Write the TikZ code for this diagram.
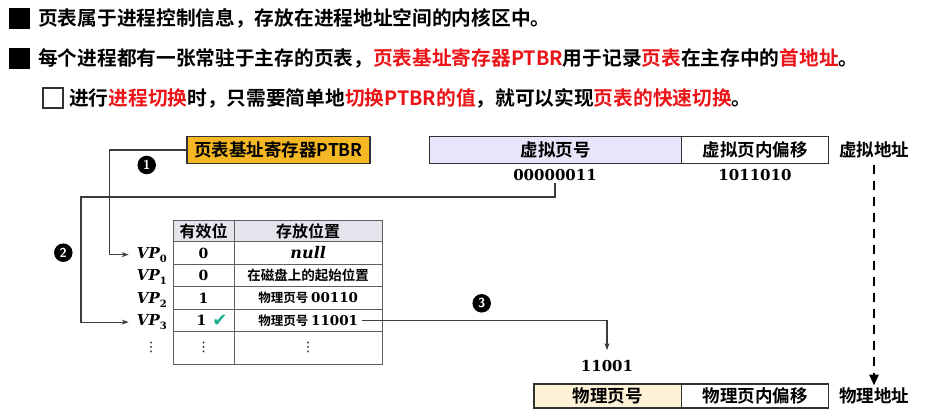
\documentclass[tikz,border=0pt]{standalone}
\usepackage{fontspec}
\newfontfamily\cjk{Noto Sans CJK SC Bold}
\newfontfamily\numf{DejaVu Serif Bold}
\newfontfamily\numi{DejaVu Serif Bold Italic}
\newfontfamily\sym{DejaVu Sans}
\usetikzlibrary{arrows.meta}
\definecolor{hred}{RGB}{235,20,25}
\definecolor{ptbrc}{RGB}{245,183,35}
\definecolor{vlav}{RGB}{230,229,250}
\definecolor{ppeach}{RGB}{253,241,214}
\definecolor{hdrc}{RGB}{228,228,236}
\definecolor{linec}{RGB}{60,60,60}
\definecolor{boxline}{RGB}{50,50,50}
\definecolor{tablec}{RGB}{95,95,95}
\definecolor{chk}{RGB}{26,175,140}
\newcommand{\vpl}[1]{{\numi VP}\raisebox{-4pt}{\numf\fontsize{10}{10}\selectfont #1}}
\newcommand{\vdt}{{\sym\fontsize{13}{13}\selectfont ⋮}}
\tikzset{
 hd/.style={anchor=west, inner sep=0, font=\cjk\fontsize{19.7}{22}\selectfont},
 boxtxt/.style={font=\cjk\fontsize{17.5}{20}\selectfont},
 fieldbox/.style={draw=boxline, line width=1.2pt, minimum height=26.6pt, inner sep=0, boxtxt},
 num/.style={font=\numf\fontsize{15}{17}\selectfont, inner sep=2pt},
 vplab/.style={anchor=base east, inner sep=0, font=\fontsize{15}{17}\selectfont},
 badge/.style={circle, fill=black, text=white, inner sep=0, minimum size=18.5pt, font=\sffamily\bfseries\fontsize{13}{13}\selectfont},
 conn/.style={draw=linec, line width=1.1pt},
 tip/.style={-{Stealth[length=7pt,width=5pt]}},
 hdcell/.style={inner sep=0, font=\cjk\fontsize{16}{18}\selectfont},
 bitcell/.style={inner sep=0, font=\numf\fontsize{14}{16}\selectfont},
 loccell/.style={inner sep=1pt, font=\cjk\fontsize{12.5}{14}\selectfont},
 dotcell/.style={inner sep=0},
 tgrid/.style={draw=tablec, line width=1pt},
}
\begin{document}
\begin{tikzpicture}[x=1pt,y=-1pt]
\useasboundingbox (0,0) rectangle (925,414);
% headings
\fill (9,8) rectangle (30,29);
\node[hd] (h1) at (38,18) {页表属于进程控制信息，存放在进程地址空间的内核区中。};
\fill (9,48) rectangle (30,69);
\node[hd] (h2) at (38,58) {每个进程都有一张常驻于主存的页表，\textcolor{hred}{页表基址寄存器PTBR}用于记录\textcolor{hred}{页表}在主存中的\textcolor{hred}{首地址}。};
\draw[line width=1.4pt, draw=boxline] (43,88) rectangle (63,108);
\node[hd] (h3) at (69,98) {进行\textcolor{hred}{进程切换}时，只需要简单地\textcolor{hred}{切换PTBR的值}，就可以实现\textcolor{hred}{页表的快速切换}。};

% PTBR register
\node[fieldbox, fill=ptbrc, minimum width=183pt] (ptbr) at (278.5,150) {页表基址寄存器PTBR};

% virtual address
\node[fieldbox, fill=vlav, minimum width=252.4pt] (vpn) at (555.5,150) {虚拟页号};
\node[fieldbox, fill=white, minimum width=146.6pt] (voff) at (755,150) {虚拟页内偏移};
\node[boxtxt, inner sep=1pt] (vaddr) at (874,150) {虚拟地址};
\node[num] (n1) at (555,175) {00000011};
\node[num] (n2) at (755,175) {1011010};

% physical address
\node[fieldbox, fill=ppeach, minimum width=147.7pt, minimum height=24pt] (ppn) at (607.9,396) {物理页号};
\node[fieldbox, fill=white, minimum width=146.6pt, minimum height=24pt] (poff) at (755,396) {物理页内偏移};
\node[boxtxt, inner sep=1pt] (paddr) at (874,396) {物理地址};
\node[num] (pnum) at (607,366) {11001};

% page table
\fill[hdrc] (173.3,220) rectangle (382.5,241.5);
\draw[tgrid] (173.3,220) rectangle (382.5,364);
\draw[tgrid] (234,220) -- (234,364);
\foreach \yy in {241.5,264,286.7,309,331.5} \draw[tgrid] (173.3,\yy) -- (382.5,\yy);
\node[hdcell] (th1) at (203.6,231) {有效位};
\node[hdcell] (th2) at (308.2,231) {存放位置};
\node[bitcell] (b0) at (203.6,253) {0};
\node[bitcell] (b1) at (203.6,275.5) {0};
\node[bitcell] (b2) at (203.6,298) {1};
\node[bitcell] (b3) at (201.5,320.5) {1};
\node[inner sep=0, font=\sym\fontsize{18}{18}\selectfont, text=chk] (ck) at (220,321) {✔};
\node[dotcell] (bd) at (203.6,347.5) {\vdt};
\node[inner sep=0, font=\numi\fontsize{16}{18}\selectfont] (s0) at (308.2,253) {null};
\node[loccell, font=\cjk\fontsize{13.5}{15}\selectfont] (s1) at (308.2,275.5) {在磁盘上的起始位置};
\node[loccell] (s2) at (308.2,298) {物理页号 {\numf\fontsize{13.5}{15}\selectfont 00110}};
\node[loccell] (s3) at (308.2,320.5) {物理页号 {\numf\fontsize{13.5}{15}\selectfont 11001}};
\node[dotcell] (sd) at (308.2,347.5) {\vdt};

\node[vplab] (vp0) at (167,258) {\vpl{0}};
\node[vplab] (vp1) at (167,280.5) {\vpl{1}};
\node[vplab] (vp2) at (167,303) {\vpl{2}};
\node[vplab] (vp3) at (167,325.5) {\vpl{3}};
\node[dotcell] (vpd) at (151,347.5) {\vdt};

% badges
\node[badge] (c1) at (146.7,165) {1};
\node[badge] (c2) at (63.3,252.7) {2};
\node[badge] (c3) at (481.7,303.3) {3};

% connectors
\coordinate (k1) at (109.3,150);
\draw[conn, tip] (ptbr.west) -- (k1) |- ([xshift=-8pt]vp0.west);
\coordinate (k2) at (555,197);
\coordinate (k3) at (81,197);
\draw[conn, tip] (n1.south) -- (k2) -- (k3) |- ([xshift=-8pt]vp3.west);
\draw[conn, tip] ([xshift=3pt]s3.east) -| ([yshift=8pt]pnum.north);
\draw[line width=2.6pt, dash pattern=on 9pt off 7pt, -{Triangle[length=11pt,width=9pt]}] ([yshift=-6pt]vaddr.south) -- ([yshift=1pt]paddr.north);
\end{tikzpicture}
\end{document}
